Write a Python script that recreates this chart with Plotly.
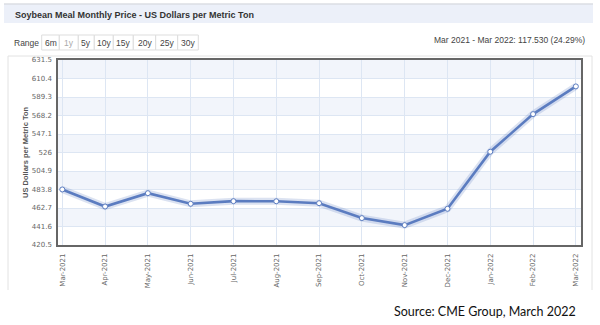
import plotly.graph_objects as go

months = ["Mar-2021", "Apr-2021", "May-2021", "Jun-2021", "Jul-2021", "Aug-2021",
          "Sep-2021", "Oct-2021", "Nov-2021", "Dec-2021", "Jan-2022", "Feb-2022", "Mar-2022"]
prices = [483.86, 464.4, 479.6, 467.5, 470.5, 470.4, 468.2, 451.2, 443.2, 461.8, 526.9, 569.8, 601.39]
ytick_vals = [420.5, 441.6, 462.7, 483.8, 504.9, 526.0, 547.1, 568.2, 589.3, 610.4, 631.5]
ytick_text = ["420.5", "441.6", "462.7", "483.8", "504.9", "526", "547.1", "568.2", "589.3", "610.4", "631.5"]
band_ranges = [(441.6, 462.7), (483.8, 504.9), (526.0, 547.1), (568.2, 589.3), (610.4, 631.5)]
range_buttons = ["6m", "1y", "5y", "10y", "15y", "20y", "25y", "30y"]
button_edges = [41.7, 59.3, 78.3, 94.3, 113.3, 133.3, 155.7, 177.7, 198.3]

W, H = 600, 325
L, R, T, B = 58, 19, 60, 80
PW, PH = W - L - R, H - T - B


def px(x):
    return (x - L) / PW


def py(y):
    return (H - B - y) / PH


fig = go.Figure()
x_idx = list(range(len(months)))
# glow
fig.add_trace(go.Scatter(x=x_idx, y=prices, mode="lines",
                         line=dict(color="rgba(90,124,192,0.22)", width=7),
                         hoverinfo="skip", showlegend=False))
fig.add_trace(go.Scatter(x=x_idx, y=prices, mode="lines+markers",
                         line=dict(color="#5b7cc0", width=2.6),
                         marker=dict(size=5, color="white", line=dict(color="#5b7cc0", width=1)),
                         showlegend=False))

shapes = []
for lo, hi in band_ranges:
    shapes.append(dict(type="rect", xref="paper", yref="y", x0=0, x1=1, y0=lo, y1=hi,
                       fillcolor="#f2f5fb", line=dict(width=0), layer="below"))
# title bar
shapes.append(dict(type="rect", xref="paper", yref="paper", x0=px(4), x1=px(593), y0=py(23), y1=py(4.5),
                   fillcolor="#ecf0f9", line=dict(width=0), layer="below"))
shapes.append(dict(type="line", xref="paper", yref="paper", x0=px(4), x1=px(593), y0=py(4), y1=py(4),
                   line=dict(color="#c9cdd6", width=1.2)))
# container
for (x0, y0, x1, y1) in [(8, 56, 8, 290), (8, 56, 592, 56), (592, 56, 592, 290)]:
    shapes.append(dict(type="line", xref="paper", yref="paper", x0=px(x0), x1=px(x1), y0=py(y0), y1=py(y1),
                       line=dict(color="#e2e2e2", width=1)))
# buttons
for i in range(len(range_buttons)):
    shapes.append(dict(type="rect", xref="paper", yref="paper", x0=px(button_edges[i]), x1=px(button_edges[i + 1]),
                       y0=py(50), y1=py(35), fillcolor="white", line=dict(color="#dddddd", width=1)))

annotations = [
    dict(text="<b>Soybean Meal Monthly Price - US Dollars per Metric Ton</b>", x=px(13), y=py(15),
         xref="paper", yref="paper", xanchor="left", yanchor="middle", showarrow=False,
         font=dict(family="Liberation Sans", size=9, color="#333333")),
    dict(text="Range", x=px(12), y=py(42.5), xref="paper", yref="paper", xanchor="left", yanchor="middle",
         showarrow=False, font=dict(family="Liberation Sans", size=8.5, color="#444444")),
    dict(text="Mar 2021 - Mar 2022: 117.530 (24.29%)", x=px(587), y=py(40), xref="paper", yref="paper",
         xanchor="right", yanchor="middle", showarrow=False,
         font=dict(family="Liberation Sans", size=8.5, color="#444444")),
    dict(text="<b>US Dollars per Metric Ton</b>", x=px(25), y=py(152), xref="paper", yref="paper",
         xanchor="center", yanchor="middle", textangle=-90, showarrow=False,
         font=dict(family="Liberation Sans", size=7.5, color="#555555")),
    dict(text="Source: CME Group, March 2022", x=px(578), y=py(311), xref="paper", yref="paper",
         xanchor="right", yanchor="middle", showarrow=False,
         font=dict(family="Lato", size=12.5, color="#111111")),
]
for i, b in enumerate(range_buttons):
    annotations.append(dict(text=b, x=px((button_edges[i] + button_edges[i + 1]) / 2), y=py(42.5),
                            xref="paper", yref="paper", xanchor="center", yanchor="middle", showarrow=False,
                            font=dict(family="Liberation Sans", size=8.5,
                                      color="#aaaaaa" if b == "1y" else "#444444")))

fig.update_layout(
    width=W, height=H, margin=dict(l=L, r=R, t=T, b=B, pad=0),
    paper_bgcolor="white", plot_bgcolor="white",
    shapes=shapes, annotations=annotations,
    xaxis=dict(range=[-0.1, 12.12], tickmode="array", tickvals=x_idx, ticktext=months, tickangle=-90,
               showgrid=True, gridcolor="#dde6f3", gridwidth=1, zeroline=False,
               showline=True, mirror=True, linecolor="#666666", linewidth=1.5, ticks="",
               ticklabelstandoff=4,
               tickfont=dict(family="DejaVu Sans", size=7, color="#666666")),
    yaxis=dict(range=[420.5, 631.5], tickmode="array", tickvals=ytick_vals, ticktext=ytick_text,
               showgrid=True, gridcolor="#dde6f3", gridwidth=1, zeroline=False,
               showline=True, mirror=True, linecolor="#666666", linewidth=1.5, ticks="",
               ticklabelstandoff=3,
               tickfont=dict(family="DejaVu Sans", size=7, color="#666666")),
)

fig.write_html("out.html")
